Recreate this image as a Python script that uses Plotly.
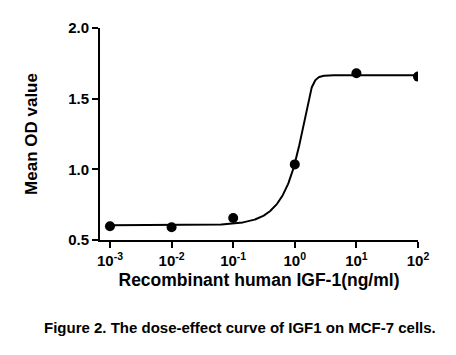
import numpy as np
import plotly.graph_objects as go

# measured data
conc = [1e-3, 1e-2, 1e-1, 1e0, 1e1, 1e2]
od = [0.597, 0.590, 0.656, 1.035, 1.680, 1.656]

# fitted asymmetric sigmoid (5PL) parameters
bottom = 0.605
top = 1.665
log_ec = 0.241
hill = 8.0
asym = 0.2

x_tickvals = [1e-3, 1e-2, 1e-1, 1e0, 1e1, 1e2]
x_ticktext = ["10<sup>-3</sup>", "10<sup>-2</sup>", "10<sup>-1</sup>",
              "10<sup>0</sup>", "10<sup>1</sup>", "10<sup>2</sup>"]
y_tickvals = [0.5, 1.0, 1.5, 2.0]
y_ticktext = ["0.5", "1.0", "1.5", "2.0"]

logx = np.linspace(-3, 2, 600)
fit = bottom + (top - bottom) / (1 + 10 ** ((log_ec - logx) * hill)) ** asym

font = "Liberation Sans, Arial, sans-serif"

fig = go.Figure()
fig.add_trace(go.Scatter(x=10 ** logx, y=fit, mode="lines",
                         line=dict(color="black", width=2), hoverinfo="skip"))
fig.add_trace(go.Scatter(x=conc, y=od, mode="markers",
                         marker=dict(color="black", size=10)))

fig.update_layout(
    width=448, height=347,
    margin=dict(l=92, r=38, t=20, b=115, autoexpand=False),
    paper_bgcolor="white", plot_bgcolor="white",
    showlegend=False,
    font=dict(family=font, color="black"),
)
fig.update_xaxes(
    type="log", range=[-3.162, 2.0],
    tickvals=x_tickvals, ticktext=x_ticktext,
    ticks="outside", ticklen=6, tickwidth=2, tickcolor="black",
    showline=True, linecolor="black", linewidth=2,
    showgrid=False, zeroline=False, automargin=False,
    tickfont=dict(family=font, size=15, color="black", weight="bold"),
    title=dict(text="<b>Recombinant human IGF-1(ng/ml)</b>", standoff=6,
               font=dict(family=font, size=17.5, color="black")),
)
fig.update_yaxes(
    range=[0.5, 2.0],
    tickvals=y_tickvals, ticktext=y_ticktext,
    ticks="outside", ticklen=6, tickwidth=2, tickcolor="black",
    showline=True, linecolor="black", linewidth=2,
    showgrid=False, zeroline=False, automargin=False,
    tickfont=dict(family=font, size=15, color="black", weight="bold"),
    title=dict(text="<b>Mean OD value</b>", standoff=26,
               font=dict(family=font, size=17, color="black")),
)
fig.add_annotation(
    text="<b>Figure 2. The dose-effect curve of IGF1 on MCF-7 cells.</b>",
    xref="paper", yref="paper", x=(232 - 92) / 318, y=-(319 - 232) / 212,
    xanchor="center", yanchor="middle", showarrow=False,
    font=dict(family=font, size=15, color="black"),
)

fig.write_html("out.html")
